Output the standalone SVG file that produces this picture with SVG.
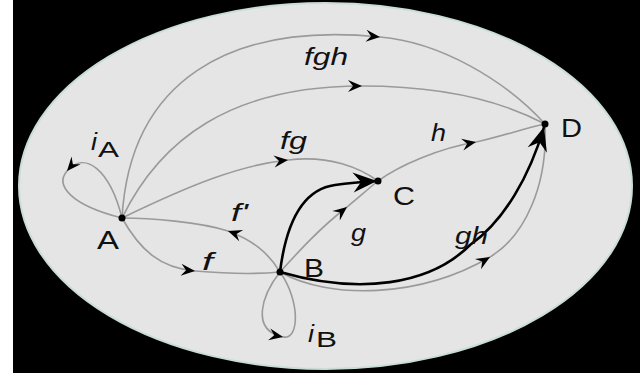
<svg xmlns="http://www.w3.org/2000/svg" width="640" height="373" viewBox="0 0 640 373">
<style>
.edge{fill:none;stroke:#9a9a9a;stroke-width:1.6;marker-mid:url(#ah)}
.bold{fill:none;stroke:#000;stroke-width:2.6;marker-end:url(#big)}
.lbl{font-family:"Liberation Sans",Arial,sans-serif;font-size:23px;font-style:italic;fill:#111}
.node{font-family:"Liberation Sans",Arial,sans-serif;font-size:25px;fill:#111}
.dot{fill:#000}
</style>
<defs>
<marker id="ah" markerUnits="userSpaceOnUse" viewBox="-15 -7 16 14" markerWidth="16" markerHeight="14" refX="0" refY="0" orient="auto">
<path d="M0,0 L-14,-6 L-9,0 L-14,6 Z" fill="#000"/>
</marker>
<marker id="big" markerUnits="userSpaceOnUse" viewBox="-26 -11 27 22" markerWidth="27" markerHeight="22" refX="0" refY="0" orient="auto">
<path d="M0,0 L-24,-10 L-16,0 L-24,10 Z" fill="#000"/>
</marker>
</defs>
<rect x="0" y="0" width="640" height="373" fill="#000"/>
<rect x="0" y="0" width="13" height="373" fill="#fff"/>
<ellipse cx="325.5" cy="186" rx="306.5" ry="183" fill="#e5e5e5" stroke="#c9ddd8" stroke-width="2"/>
<g id="connectors">
<path class="edge" d="M122,218 C130,80 230,22 380,37 C440,42 505,80 545,124"/>
<path class="edge" d="M122,218 C160,140 230,86 362,86 C440,86 500,100 545,124"/>
<path class="edge" d="M122,218 C190,185 240,165 288,160 C330,155 360,168 378,181"/>
<path class="edge" d="M378,181 C400,165 440,148 476,142 C500,137 525,128 545,124"/>
<path class="edge" d="M280,272 C300,250 320,228 347,207 C358,198 368,189 378,181"/>
<path class="edge" d="M122,218 C140,250 160,268 195,271 C230,274 260,274 280,272"/>
<path class="edge" d="M280,272 C268,252 252,240 228,231 C200,222 150,218 122,218"/>
<path class="edge" d="M280,272 C330,300 420,298 490,257 C525,236 548,185 545,124"/>
<path class="edge" d="M122,218 C110,170 85,150 67,171 C55,185 70,205 122,218"/>
<path class="edge" d="M280,272 C262,295 250,330 283,337 C300,340 300,300 280,272"/>
<path class="bold" d="M280,272 C285,232 298,190 335,185 C350,183 362,182 377,181"/>
<path class="bold" d="M280,272 C360,295 430,285 470,245 C505,220 530,175 544,127"/>
</g>
<g id="labels">
<text class="lbl" x="304" y="65" textLength="44" lengthAdjust="spacingAndGlyphs">fgh</text>
<text class="lbl" x="280" y="149" textLength="27" lengthAdjust="spacingAndGlyphs">fg</text>
<text class="lbl" x="431" y="141" textLength="15" lengthAdjust="spacingAndGlyphs">h</text>
<text class="lbl" x="231" y="221" textLength="17" lengthAdjust="spacingAndGlyphs">f'</text>
<text class="lbl" x="202" y="270" textLength="11" lengthAdjust="spacingAndGlyphs">f</text>
<text class="lbl" x="351" y="241" textLength="15" lengthAdjust="spacingAndGlyphs">g</text>
<text class="lbl" x="455" y="244" textLength="33" lengthAdjust="spacingAndGlyphs">gh</text>
<g id="iA-label"><text class="lbl" x="91" y="150" textLength="6" lengthAdjust="spacingAndGlyphs">i</text><text class="node" style="font-size:22px" x="98" y="157" textLength="21" lengthAdjust="spacingAndGlyphs">A</text></g>
<g id="iB-label"><text class="lbl" x="308" y="342" textLength="6" lengthAdjust="spacingAndGlyphs">i</text><text class="node" style="font-size:22px" x="316" y="347" textLength="21" lengthAdjust="spacingAndGlyphs">B</text></g>
</g>
<g id="A"><circle class="dot" cx="122" cy="218" r="3.5"/><text class="node" x="97" y="249" textLength="22" lengthAdjust="spacingAndGlyphs">A</text></g>
<g id="B"><circle class="dot" cx="280" cy="272" r="3.5"/><text class="node" x="304" y="277" textLength="20" lengthAdjust="spacingAndGlyphs">B</text></g>
<g id="C"><circle class="dot" cx="378" cy="181" r="3.5"/><text class="node" x="393" y="205" textLength="22" lengthAdjust="spacingAndGlyphs">C</text></g>
<g id="D"><circle class="dot" cx="545" cy="124" r="3.5"/><text class="node" x="561" y="137" textLength="21" lengthAdjust="spacingAndGlyphs">D</text></g>
</svg>
